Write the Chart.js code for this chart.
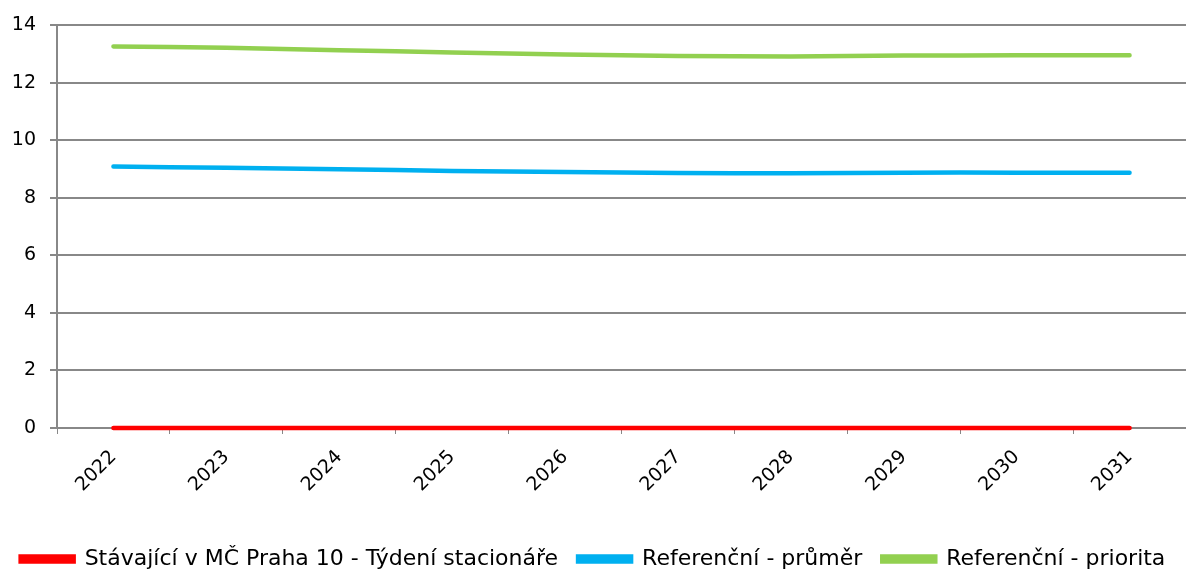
<!DOCTYPE html>
<html lang="cs">
  <head>
    <meta charset="UTF-8" />
    <title>Chart</title>
    <script src="https://cdn.jsdelivr.net/npm/chart.js"></script>
    <style>
      html, body { margin: 0; padding: 0; background: #fff; }
      #wrap { width: 1186px; height: 569px; }
    </style>
  </head>
  <body>
    <div id="wrap"><canvas id="myChart"></canvas></div>

    <script>
      const years = ["2022", "2023", "2024", "2025", "2026", "2027", "2028", "2029", "2030", "2031"];
      const stavajici = [0, 0, 0, 0, 0, 0, 0, 0, 0, 0];
      const prumer = [9.09, 9.05, 9.0, 8.94, 8.9, 8.87, 8.86, 8.88, 8.88, 8.88];
      const priorita = [13.27, 13.22, 13.14, 13.06, 12.99, 12.94, 12.92, 12.95, 12.96, 12.96];

      Chart.defaults.font.family = "'DejaVu Sans', Verdana, sans-serif";
      Chart.defaults.color = "#000";

      const line = (label, data, color) => ({
        label: label,
        data: data,
        borderColor: color,
        backgroundColor: color,
        borderWidth: 4.5,
        pointRadius: 0,
        tension: 0.4,
        borderCapStyle: "round",
        clip: false,
      });

      const ctx = document.getElementById("myChart").getContext("2d");
      new Chart(ctx, {
        type: "line",
        data: {
          labels: years,
          datasets: [
            line("Stávající v MČ Praha 10 - Týdení stacionáře", stavajici, "#ff0000"),
            line("Referenční - průměr", prumer, "#00b0f0"),
            line("Referenční - priorita", priorita, "#92d050"),
          ],
        },
        options: {
          responsive: true,
          maintainAspectRatio: false,
          animation: false,
          layout: { padding: { left: 0, right: 0, top: 16, bottom: -11 } },
          plugins: {
            legend: {
              position: "bottom",
              labels: {
                font: { size: 22 },
                boxWidth: 53,
                boxHeight: 5,
                padding: 20,
              },
            },
            tooltip: { enabled: false },
          },
          scales: {
            x: {
              offset: true,
              grid: { offset: true, drawOnChartArea: false, color: "#888", tickLength: 6 },
              border: { color: "#888", width: 2 },
              ticks: { font: { size: 19 }, minRotation: 45, maxRotation: 45, padding: 12 },
              afterFit: (s) => { s.height = 100; },
            },
            y: {
              min: 0,
              max: 14,
              ticks: { stepSize: 2, font: { size: 19 }, padding: 14 },
              grid: { color: "#888", lineWidth: 2, tickLength: 7 },
              border: { color: "#888", width: 2 },
              afterFit: (s) => { s.width = 57; },
            },
          },
        },
      });
    </script>
  </body>
</html>
